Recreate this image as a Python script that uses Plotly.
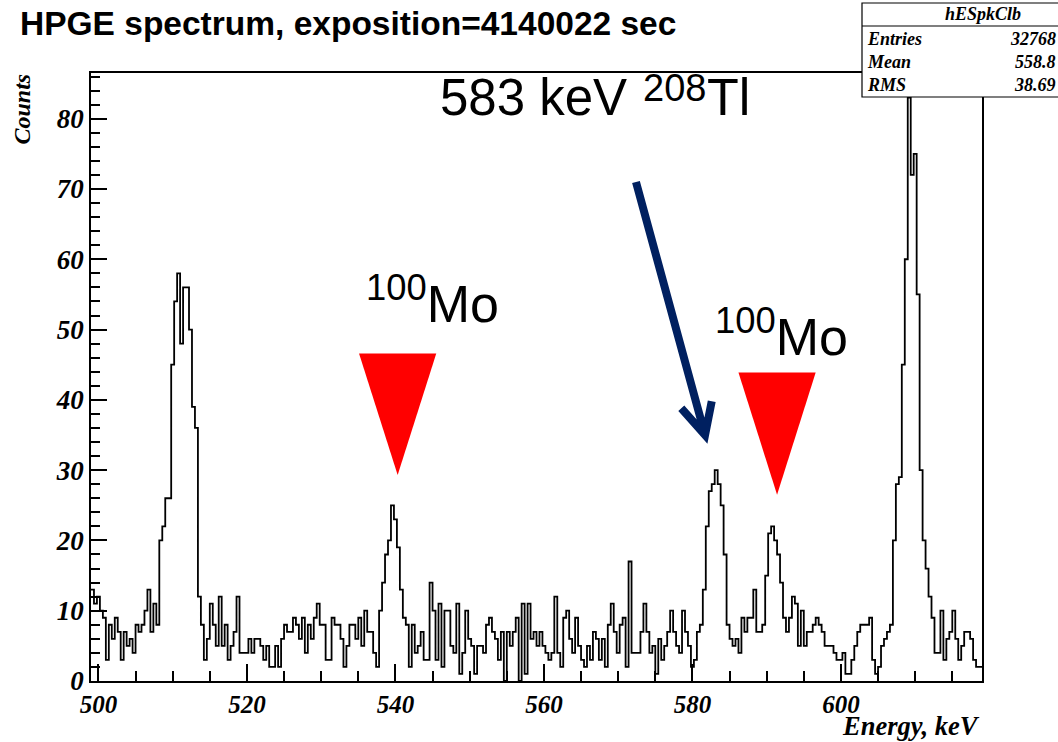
import numpy as np
import plotly.graph_objects as go

# ---------------- data ----------------
E_START = 499.0          # lower edge of first bin (keV)
BIN_WIDTH = 0.4          # keV per bin

counts_499_508 = [13, 11, 12, 10, 9, 3, 8, 6, 9, 7, 3, 7, 5, 6, 4, 8, 7, 8, 10, 13, 7, 11, 8]
counts_508_513 = [20, 22, 26, 26, 45, 54, 58, 48, 56, 56, 50, 39]
counts_513_531 = [36, 12, 8, 3, 6, 11, 8, 5, 12, 5, 8, 3, 5, 7, 12, 4, 4, 4, 6, 4,
                  6, 6, 5, 3, 5, 2, 2, 5, 2, 6, 8, 7, 7, 9, 8, 6, 9, 4, 8, 6,
                  9, 11, 8, 8, 3]
counts_531_548 = [3, 9, 8, 8, 6, 2, 5, 8, 8, 6, 9, 5, 10, 7, 7, 4, 2, 10, 14, 18,
                  20, 25, 23, 19, 13, 9, 8, 2, 8, 4, 5, 7, 3, 3, 14, 10, 3, 11, 2, 10,
                  10, 5, 4]
counts_548_560 = [11, 1, 4, 10, 6, 5, 1, 5, 5, 4, 8, 9, 7, 6, 3, 7, 0, 7, 5, 7,
                  9, 0, 11, 1, 11, 6, 7, 5, 7, 5]
counts_560_580 = [4, 3, 4, 12, 4, 2, 9, 10, 6, 4, 9, 5, 3, 2, 5, 3, 7, 6, 3, 6,
                  2, 8, 11, 7, 4, 8, 9, 2, 17, 4, 4, 4, 7, 11, 7, 4, 5, 1, 6, 3,
                  5, 7, 10, 7, 5, 4, 10, 7, 5, 2]
counts_580_598 = [3, 7, 8, 13, 22, 27, 28, 30, 28, 25, 18, 8, 6, 5, 6, 4, 9, 7, 9, 9,
                  13, 7, 7, 8, 15, 21, 22, 20, 18, 14, 9, 7, 9, 12, 11, 5, 10, 5, 7, 7,
                  8, 9, 8, 7, 5]
counts_598_607 = [5, 5, 4, 3, 3, 4, 1, 1, 3, 5, 7, 8, 8, 8, 9, 3, 1, 2, 5, 6, 7, 8]
counts_607_613 = [20, 28, 29, 45, 60, 83, 72, 75, 55, 30, 20, 16, 12, 9]
counts_613_619 = [4, 4, 10, 3, 6, 7, 10, 6, 3, 5, 7, 7, 6, 3, 2, 2]

X_RANGE = [499, 619]
Y_RANGE = [0, 86.5]
X_TICK0, X_DTICK, X_MINOR = 500, 20, 5
Y_DTICK, Y_MINOR = 10, 2

TITLE = "HPGE spectrum, exposition=4140022 sec"
X_TITLE = "Energy, keV"
Y_TITLE = "Counts"
STATS_NAME = "hESpkClb"
STATS_LABELS = ["Entries", "Mean", "RMS"]
STATS_VALUES = ["32768", "558.8", "38.69"]

MO_PEAKS = [540.3, 591.4]     # keV, marked with red triangles
TL_PARTS = ["583 keV", "208", "Tl"]
MO_LABEL = "<sup>100</sup>Mo"

# ---------------- build ----------------
counts = (counts_499_508 + counts_508_513 + counts_513_531 + counts_531_548 +
          counts_548_560 + counts_560_580 + counts_580_598 + counts_598_607 +
          counts_607_613 + counts_613_619)
edges = E_START + BIN_WIDTH * np.arange(len(counts) + 1)
ys = counts + [counts[-1]]

fig = go.Figure()
fig.add_trace(go.Scatter(x=edges, y=ys, mode="lines",
                         line=dict(color="black", width=1.8, shape="hv"),
                         hoverinfo="skip", showlegend=False))

W, H = 1058, 742
L, R, T, B = 91, 76, 73, 61
PW, PH = W - L - R, H - T - B


def pxx(px):
    return (px - L) / PW


def pxy(py):
    return (H - B - py) / PH


serif_bi = dict(family="Liberation Serif", color="black", weight="bold", style="italic")

fig.update_layout(
    width=W, height=H,
    margin=dict(l=L, r=R, t=T, b=B, pad=0),
    paper_bgcolor="white", plot_bgcolor="white",
    showlegend=False,
    xaxis=dict(range=X_RANGE, showgrid=False, zeroline=False,
               showline=True, mirror=True, linecolor="black", linewidth=1.5,
               ticks="inside", ticklen=17, tickwidth=1.5, tickcolor="black",
               tickmode="linear", tick0=X_TICK0, dtick=X_DTICK,
               tickfont=dict(size=25, **serif_bi),
               minor=dict(ticks="inside", dtick=X_MINOR, tick0=X_TICK0, ticklen=10,
                          tickwidth=1.5, tickcolor="black", showgrid=False)),
    yaxis=dict(range=Y_RANGE, showgrid=False, zeroline=False,
               showline=True, mirror=True, linecolor="black", linewidth=1.5,
               ticks="inside", ticklen=16, tickwidth=1.5, tickcolor="black",
               tickmode="linear", tick0=0, dtick=Y_DTICK,
               tickfont=dict(size=27, **serif_bi),
               minor=dict(ticks="inside", dtick=Y_MINOR, ticklen=9,
                          tickwidth=1.5, tickcolor="black", showgrid=False)),
)

sans = "Liberation Sans"
ann = []
ann.append(dict(text=f"<b>{TITLE}</b>", x=pxx(18), y=pxy(23), xref="paper", yref="paper",
                xanchor="left", yanchor="middle", showarrow=False,
                font=dict(family=sans, size=33.5, color="black")))
ann.append(dict(text=X_TITLE, x=pxx(981), y=pxy(726), xref="paper", yref="paper",
                xanchor="right", yanchor="middle", showarrow=False, borderpad=0,
                font=dict(size=26.5, **serif_bi)))
ann.append(dict(text=Y_TITLE, x=pxx(22), y=pxy(72), xref="paper", yref="paper",
                xanchor="center", yanchor="top", textangle=-90, showarrow=False,
                font=dict(size=24, **serif_bi)))
# 583 keV 208Tl (main text, superscript, element)
ann.append(dict(text=TL_PARTS[0], x=pxx(438), y=pxy(97), xref="paper", yref="paper",
                xanchor="left", yanchor="middle", showarrow=False,
                font=dict(family=sans, size=51, color="black")))
ann.append(dict(text=TL_PARTS[1], x=pxx(641), y=pxy(88), xref="paper", yref="paper",
                xanchor="left", yanchor="middle", showarrow=False,
                font=dict(family=sans, size=38, color="black")))
ann.append(dict(text=TL_PARTS[2], x=pxx(705), y=pxy(97), xref="paper", yref="paper",
                xanchor="left", yanchor="middle", showarrow=False,
                font=dict(family=sans, size=52, color="black")))
ann.append(dict(text=MO_LABEL, x=pxx(364), y=pxy(300), xref="paper", yref="paper",
                xanchor="left", yanchor="middle", showarrow=False,
                font=dict(family=sans, size=52, color="black")))
ann.append(dict(text=MO_LABEL, x=pxx(713), y=pxy(333), xref="paper", yref="paper",
                xanchor="left", yanchor="middle", showarrow=False,
                font=dict(family=sans, size=52, color="black")))

# stats box
stats_font = dict(size=18, **serif_bi)
ann.append(dict(text=STATS_NAME, x=pxx(983), y=pxy(14), xref="paper", yref="paper",
                xanchor="center", yanchor="middle", showarrow=False, font=stats_font))
for i, (lab, val) in enumerate(zip(STATS_LABELS, STATS_VALUES)):
    yy = [39, 62, 85][i]
    ann.append(dict(text=lab, x=pxx(865), y=pxy(yy), xref="paper", yref="paper",
                    xanchor="left", yanchor="middle", showarrow=False, font=stats_font))
    ann.append(dict(text=val, x=pxx(1058), y=pxy(yy), xref="paper", yref="paper",
                    xanchor="right", yanchor="middle", showarrow=False, font=stats_font))
fig.update_layout(annotations=ann)

shapes = []
# stats box
shapes.append(dict(type="rect", xref="paper", yref="paper",
                   x0=pxx(862), x1=pxx(1110), y0=pxy(97), y1=pxy(3),
                   line=dict(color="black", width=1.2), fillcolor="white", layer="above"))
shapes.append(dict(type="line", xref="paper", yref="paper",
                   x0=pxx(862), x1=pxx(1110), y0=pxy(26), y1=pxy(26),
                   line=dict(color="black", width=1.2), layer="above"))

# red triangles over the 100Mo peaks
half_w, top_y, tip_y = [5.2, 5.2], [46.6, 43.9], [29.3, 26.5]
for e, hw, ty, tp in zip(MO_PEAKS, half_w, top_y, tip_y):
    shapes.append(dict(type="path", xref="x", yref="y",
                       path=f"M {e-hw},{ty} L {e+hw},{ty} L {e},{tp} Z",
                       fillcolor="#ff0000", line=dict(width=0), layer="above"))

# navy arrow to the 583 keV peak
a0, tip, bl, br = (572.4, 71.0), (581.7, 35.0), (578.5, 38.8), (582.6, 39.8)
shapes.append(dict(type="path", xref="x", yref="y",
                   path=(f"M {a0[0]},{a0[1]} L {tip[0]},{tip[1]} "
                         f"M {bl[0]},{bl[1]} L {tip[0]},{tip[1]} L {br[0]},{br[1]}"),
                   line=dict(color="#002060", width=8), layer="above"))
fig.update_layout(shapes=shapes)

fig.write_html("out.html")
